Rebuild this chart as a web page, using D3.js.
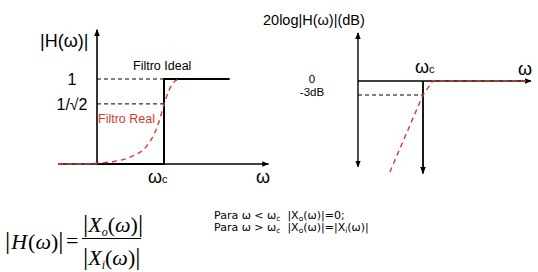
<!DOCTYPE html>
<html>
<head>
<meta charset="utf-8">
<script src="https://cdn.jsdelivr.net/npm/d3@7"></script>
<style>
  body { margin: 0; background: #fff; }
  svg { display: block; }
</style>
</head>
<body>
<script>
// ideal low-pass magnitude (omega in units of wc, |H|)
var idealW = [0, 1, 1, 1.98];
var idealH = [0, 0, 1, 1];
// real filter
var realW = [-0.58, -0.25, 0, 0.25, 0.49, 0.75, 0.9, 0.99, 1.06, 1.19, 1.24];
var realH = [0, 0, 0.01, 0.03, 0.08, 0.22, 0.44, 0.67, 0.84, 0.99, 1.0];
// level labels on the |H| plot
var levelVals = [1, Math.SQRT1_2];
var levelLabels = ["1", "1/\u221A2"];
// bode (dB) plot
var bodeW = [0.49, 1, 1.15, 2.6];
var bodeDb = [-19.5, -3, 0, 0];
var dbVals = [0, -3];
var dbLabels = ["0", "-3dB"];

var red = "#d63a30";
var W = 538, H = 272;

var svg = d3.select("body").append("svg")
    .attr("width", W)
    .attr("height", H);

var defs = svg.append("defs");
defs.append("marker")
    .attr("id", "arr")
    .attr("viewBox", "0 0 10 10")
    .attr("refX", 9).attr("refY", 5)
    .attr("markerWidth", 7).attr("markerHeight", 7)
    .attr("markerUnits", "userSpaceOnUse")
    .attr("orient", "auto-start-reverse")
  .append("path")
    .attr("d", "M0,1 L10,5 L0,9 Z")
    .attr("fill", "#000");

var sans = "'Liberation Sans', Arial, sans-serif";

// ---------- left: |H(w)| ----------
var xL = d3.scaleLinear().domain([0, 1]).range([97, 164]);
var yL = d3.scaleLinear().domain([0, 1]).range([164, 79]);

var gL = svg.append("g");

// x axis
gL.append("line")
    .attr("x1", xL(-0.58)).attr("x2", xL(2.56))
    .attr("y1", yL(0)).attr("y2", yL(0))
    .attr("stroke", "#000").attr("stroke-width", 1.6)
    .attr("marker-end", "url(#arr)");
// y axis
gL.append("line")
    .attr("x1", xL(0)).attr("x2", xL(0))
    .attr("y1", yL(0)).attr("y2", yL(1.58))
    .attr("stroke", "#000").attr("stroke-width", 1.6)
    .attr("marker-end", "url(#arr)");

// dashed guide lines
gL.selectAll(".guide")
    .data(levelVals)
    .enter().append("line")
    .attr("class", "guide")
    .attr("x1", xL(0)).attr("x2", xL(1))
    .attr("y1", function(d){ return yL(d); })
    .attr("y2", function(d){ return yL(d); })
    .attr("stroke", "#000").attr("stroke-width", 1)
    .attr("stroke-dasharray", "4,3");

gL.selectAll(".lvl")
    .data(levelVals)
    .enter().append("text")
    .attr("class", "lvl")
    .attr("x", 72)
    .attr("y", function(d){ return yL(d) + 6; })
    .attr("text-anchor", "middle")
    .style("font-family", sans)
    .style("font-size", "16px")
    .text(function(d, i){ return levelLabels[i]; });

// ideal filter
var ideal = idealW.map(function(w, i){ return [w, idealH[i]]; });
gL.append("path")
    .datum(ideal)
    .attr("d", d3.line().x(function(d){ return xL(d[0]); }).y(function(d){ return yL(d[1]); }))
    .attr("fill", "none")
    .attr("stroke", "#000").attr("stroke-width", 2);

// real filter
var real = realW.map(function(w, i){ return [w, realH[i]]; });
gL.append("path")
    .datum(real)
    .attr("d", d3.line().curve(d3.curveMonotoneX)
        .x(function(d){ return xL(d[0]); }).y(function(d){ return yL(d[1]); }))
    .attr("fill", "none")
    .attr("stroke", red).attr("stroke-width", 1.4)
    .attr("stroke-dasharray", "5,4");

gL.append("text")
    .attr("x", 40).attr("y", 47)
    .style("font-family", sans).style("font-size", "18px")
    .text("|H(\u03C9)|");
gL.append("text")
    .attr("x", 133).attr("y", 70)
    .style("font-family", sans).style("font-size", "12.5px")
    .text("Filtro Ideal");
gL.append("text")
    .attr("x", 98).attr("y", 123)
    .style("font-family", sans).style("font-size", "12.5px")
    .attr("fill", red)
    .text("Filtro Real");

var wcL = gL.append("text")
    .attr("x", 148).attr("y", 183)
    .style("font-family", sans).style("font-size", "18px");
wcL.append("tspan").text("\u03C9");
wcL.append("tspan").attr("font-size", "11px").text("c");
gL.append("text")
    .attr("x", 256).attr("y", 183)
    .style("font-family", sans).style("font-size", "18px")
    .text("\u03C9");

// ---------- right: 20log|H(w)| ----------
var xR = d3.scaleLinear().domain([0, 1]).range([358, 423]);
var yR = d3.scaleLinear().domain([0, -3]).range([81, 95]);

var gR = svg.append("g");

gR.append("line")
    .attr("x1", xR(0)).attr("x2", xR(0))
    .attr("y1", yR(10.3)).attr("y2", yR(-18.4))
    .attr("stroke", "#000").attr("stroke-width", 1.4)
    .attr("marker-start", "url(#arr)")
    .attr("marker-end", "url(#arr)");
gR.append("line")
    .attr("x1", xR(0)).attr("x2", xR(2.66))
    .attr("y1", yR(0)).attr("y2", yR(0))
    .attr("stroke", "#000").attr("stroke-width", 1.4)
    .attr("marker-end", "url(#arr)");
// ideal cut-off drop
gR.append("line")
    .attr("x1", xR(1)).attr("x2", xR(1))
    .attr("y1", yR(0)).attr("y2", yR(-19.8))
    .attr("stroke", "#000").attr("stroke-width", 1.8)
    .attr("marker-end", "url(#arr)");
// -3dB guide
gR.append("line")
    .attr("x1", xR(0)).attr("x2", xR(1))
    .attr("y1", yR(-3)).attr("y2", yR(-3))
    .attr("stroke", "#000").attr("stroke-width", 1)
    .attr("stroke-dasharray", "4,3");

var bode = bodeW.map(function(w, i){ return [w, bodeDb[i]]; });
gR.append("path")
    .datum(bode)
    .attr("d", d3.line().x(function(d){ return xR(d[0]); }).y(function(d){ return yR(d[1]); }))
    .attr("fill", "none")
    .attr("stroke", red).attr("stroke-width", 1.4)
    .attr("stroke-dasharray", "5,4");

gR.selectAll(".db")
    .data(dbVals)
    .enter().append("text")
    .attr("class", "db")
    .attr("x", 312)
    .attr("y", function(d, i){ return i === 0 ? 83 : 96; })
    .attr("text-anchor", "middle")
    .style("font-family", sans).style("font-size", "11.5px")
    .text(function(d, i){ return dbLabels[i]; });

gR.append("text")
    .attr("x", 263).attr("y", 25)
    .style("font-family", sans).style("font-size", "14.5px")
    .text("20log|H(\u03C9)|(dB)");
var wcR = gR.append("text")
    .attr("x", 415).attr("y", 73)
    .style("font-family", sans).style("font-size", "18px");
wcR.append("tspan").text("\u03C9");
wcR.append("tspan").attr("font-size", "11px").text("c");
gR.append("text")
    .attr("x", 518).attr("y", 75)
    .style("font-family", sans).style("font-size", "18px")
    .text("\u03C9");

// ---------- formula ----------
var serif = "'Liberation Serif', 'Times New Roman', serif";
var gF = svg.append("g").style("font-family", serif).style("font-size", "22px");

var lhs = gF.append("text").attr("x", 5).attr("y", 249);
lhs.append("tspan").style("font-size", "26px").text("|");
lhs.append("tspan").attr("dx", 1).style("font-style", "italic").text("H");
lhs.append("tspan").attr("dx", 1).text("(");
lhs.append("tspan").style("font-style", "italic").text("\u03C9");
lhs.append("tspan").text(")");
lhs.append("tspan").style("font-size", "26px").text("|");
gF.append("text").attr("x", 66).attr("y", 248).text("=");

function frac(y, sub) {
  var t = gF.append("text").attr("x", 83).attr("y", y);
  t.append("tspan").style("font-size", "26px").text("|");
  t.append("tspan").style("font-style", "italic").text("X");
  t.append("tspan").style("font-style", "italic").style("font-size", "12px").attr("dy", 4).text(sub);
  t.append("tspan").attr("dy", -4).text("(");
  t.append("tspan").style("font-style", "italic").text("\u03C9");
  t.append("tspan").text(")");
  t.append("tspan").style("font-size", "26px").text("|");
}
frac(232, "o");
frac(265, "i");
gF.append("line")
    .attr("x1", 82).attr("x2", 141)
    .attr("y1", 238.5).attr("y2", 238.5)
    .attr("stroke", "#000").attr("stroke-width", 1);

// ---------- conditions ----------
var gC = svg.append("g")
    .style("font-family", "'DejaVu Sans', Verdana, sans-serif")
    .style("font-size", "11px");
function cond(y, parts) {
  var t = gC.append("text").attr("x", 214).attr("y", y).attr("xml:space", "preserve");
  parts.forEach(function(p){
    var s = t.append("tspan").text(p[0]);
    if (p[1]) s.style("font-size", "7.5px").attr("dy", 2);
    if (p[2]) s.attr("dy", -2);
  });
}
cond(219, [["Para \u03C9 < \u03C9"], ["c", 1], ["  |X", 0, 1], ["o", 1], ["(\u03C9)|=0;", 0, 1]]);
cond(231, [["Para \u03C9 > \u03C9"], ["c", 1], ["  |X", 0, 1], ["o", 1], ["(\u03C9)|=|X", 0, 1], ["i", 1], ["(\u03C9)|", 0, 1]]);
</script>
</body>
</html>
